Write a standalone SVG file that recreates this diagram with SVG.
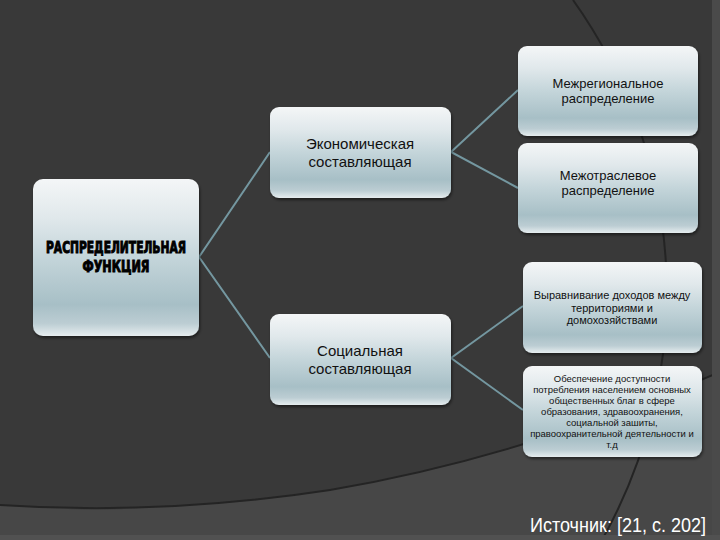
<svg xmlns="http://www.w3.org/2000/svg" width="720" height="540" viewBox="0 0 720 540">
<defs>
<linearGradient id="g" x1="0" y1="0" x2="0" y2="1">
<stop offset="0" stop-color="#f4f6f7"/>
<stop offset="0.25" stop-color="#e0e8eb"/>
<stop offset="0.5" stop-color="#c4d5da"/>
<stop offset="0.8" stop-color="#a7bfc6"/>
<stop offset="0.92" stop-color="#bccdd3"/>
<stop offset="1" stop-color="#e6edef"/>
</linearGradient>
<filter id="sh" x="-10%" y="-10%" width="120%" height="130%">
<feDropShadow dx="1" dy="2" stdDeviation="1.5" flood-color="#000" flood-opacity="0.5"/>
</filter>
<style>
.box{fill:url(#g);filter:url(#sh)}
.t{font-family:"Liberation Sans",Arial,sans-serif;fill:#111;text-anchor:middle}
.m{font-family:"Liberation Sans Narrow","DejaVu Sans Condensed",sans-serif;font-weight:bold;font-size:15px;fill:#000;stroke:#000;stroke-width:0.9;text-anchor:middle}
.arc{fill:none;stroke:#242424;stroke-width:2}
.c{stroke:#7497a0;stroke-width:2;fill:none}
</style>
</defs>
<rect width="720" height="540" fill="#393939"/>
<path d="M0,505 Q160,516 330,490 Q520,458 720,372 L720,540 L0,540 Z" fill="#474747"/>
<path class="arc" d="M0,505 Q160,516 330,490 Q520,458 720,372"/>
<path class="arc" d="M573,0 A504,504 0 0 1 602,540"/>
<rect x="712" y="0" width="8" height="540" fill="#4a4a4a"/>
<rect x="0" y="535" width="720" height="5" fill="#515151"/>
<g id="connectors">
<polyline class="c" points="270,152 199,257 270,358"/>
<polyline class="c" points="518,90 451,152 518,188"/>
<polyline class="c" points="523,306 451,358 523,410"/>
</g>
<g id="main">
<rect class="box" x="33" y="179" width="166" height="157" rx="10"/>
<text class="m" x="116" y="253" textLength="140" lengthAdjust="spacingAndGlyphs">РАСПРЕДЕЛИТЕЛЬНАЯ</text>
<text class="m" x="116" y="272" textLength="67" lengthAdjust="spacingAndGlyphs">ФУНКЦИЯ</text>
</g>
<g id="econ">
<rect class="box" x="270" y="107" width="181" height="91" rx="9"/>
<text class="t" x="360" y="149" font-size="15">Экономическая</text>
<text class="t" x="360" y="167" font-size="15">составляющая</text>
</g>
<g id="social">
<rect class="box" x="270" y="314" width="181" height="91" rx="9"/>
<text class="t" x="360" y="356" font-size="15">Социальная</text>
<text class="t" x="360" y="374" font-size="15">составляющая</text>
</g>
<g id="mezhreg">
<rect class="box" x="518" y="46" width="180" height="90" rx="9"/>
<text class="t" x="608" y="88" font-size="13">Межрегиональное</text>
<text class="t" x="608" y="103" font-size="13">распределение</text>
</g>
<g id="mezhotr">
<rect class="box" x="518" y="143" width="180" height="90" rx="9"/>
<text class="t" x="608" y="180" font-size="13">Межотраслевое</text>
<text class="t" x="608" y="195" font-size="13">распределение</text>
</g>
<g id="vyr">
<rect class="box" x="523" y="262" width="179" height="91" rx="9"/>
<text class="t" x="612" y="299" font-size="11">Выравнивание доходов между</text>
<text class="t" x="612" y="312" font-size="11">территориями и</text>
<text class="t" x="612" y="324" font-size="11">домохозяйствами</text>
</g>
<g id="obesp">
<rect class="box" x="523" y="366" width="179" height="91" rx="9"/>
<text class="t" x="612" y="382" font-size="9.5">Обеспечение доступности</text>
<text class="t" x="612" y="393" font-size="9.5">потребления населением основных</text>
<text class="t" x="612" y="404" font-size="9.5">общественных благ в сфере</text>
<text class="t" x="612" y="415" font-size="9.5">образования, здравоохранения,</text>
<text class="t" x="612" y="426" font-size="9.5">социальной зашиты,</text>
<text class="t" x="612" y="437" font-size="9.5">правоохранительной деятельности и</text>
<text class="t" x="612" y="448" font-size="9.5">т.д</text>
</g>
<text x="530" y="532" style="font-family:'Liberation Sans Narrow','Liberation Sans',sans-serif;font-size:20px;fill:#fff" textLength="176" lengthAdjust="spacingAndGlyphs">Источник: [21, с. 202]</text>
</svg>
